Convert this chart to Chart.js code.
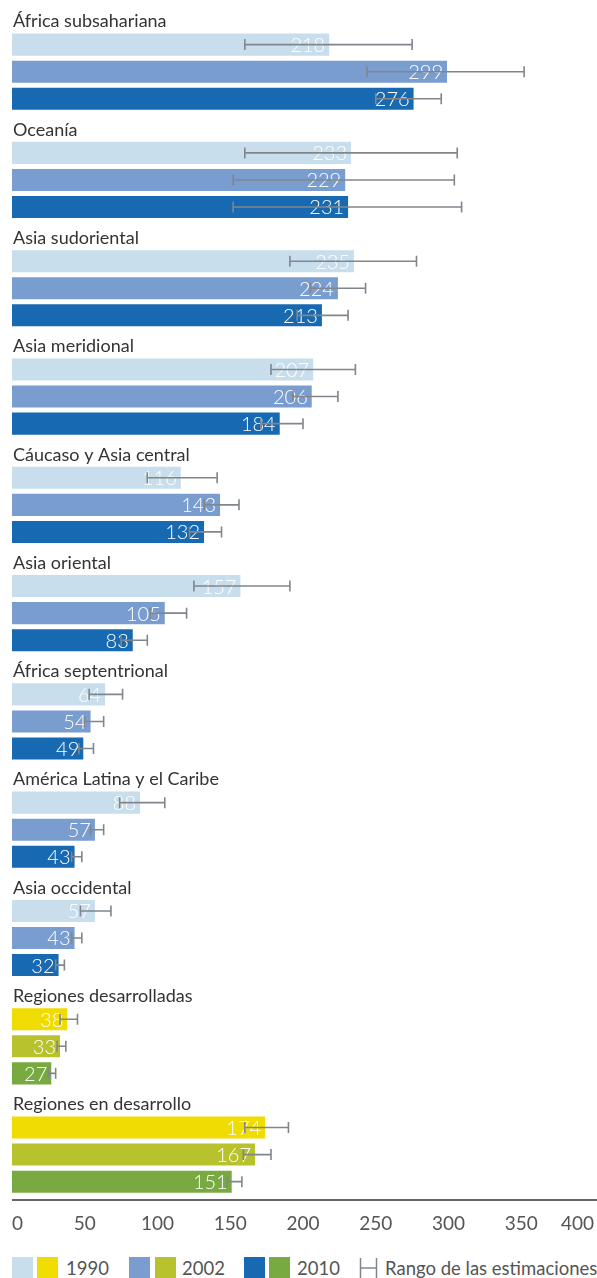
<!DOCTYPE html>
<html>
<head>
<meta charset="utf-8">
<script src="https://cdn.jsdelivr.net/npm/chart.js@4/dist/chart.umd.min.js"></script>
<style>
  body { margin: 0; background: #fff; font-family: Lato, sans-serif; }
  #wrap { position: relative; width: 597px; height: 1244px; }
  #legend { position: absolute; top: 1257px; left: 0; width: 597px; height: 21px; font-size: 18.5px; color: #555; white-space: nowrap; }
  #legend > * { position: absolute; top: 0; }
  .sw { width: 21px; height: 21px; }
  .txt { line-height: 21px; top: 1px !important; }
</style>
</head>
<body>
<div id="wrap"><canvas id="chart"></canvas></div>
<div id="legend">
  <span class="sw" style="left:12px;background:#c8deec"></span><span class="sw" style="left:37px;background:#f0dc00"></span><span class="txt" style="left:66px">1990</span>
  <span class="sw" style="left:129px;background:#7a9dd0"></span><span class="sw" style="left:155px;background:#b8c22c"></span><span class="txt" style="left:182px">2002</span>
  <span class="sw" style="left:244px;background:#1769b1"></span><span class="sw" style="left:269px;background:#78aa41"></span><span class="txt" style="left:297px">2010</span>
  <svg width="20" height="22" style="left:359px"><path d="M1.5 1 V21 M1.5 11 H17.5 M17.5 1 V21" stroke="#80868c" stroke-width="1.5" fill="none"/></svg><span class="txt" style="left:385px">Rango de las estimaciones</span>
</div>
<script>
// regiones (las dos últimas son agregados, con otros colores)
const regions = ['África subsahariana', 'Oceanía', 'Asia sudoriental', 'Asia meridional',
  'Cáucaso y Asia central', 'Asia oriental', 'África septentrional',
  'América Latina y el Caribe', 'Asia occidental', 'Regiones desarrolladas', 'Regiones en desarrollo'];
const years = ['1990', '2002', '2010'];

const v1990 = [218, 233, 235, 207, 116, 157, 64, 88, 57, 38, 174];
const v2002 = [299, 229, 224, 206, 143, 105, 54, 57, 43, 33, 167];
const v2010 = [276, 231, 213, 184, 132, 83, 49, 43, 32, 27, 151];

const low1990 = [160, 160, 191, 178, 93, 125, 53, 74, 47, 33, 160];
const high1990 = [275, 306, 278, 236, 141, 191, 76, 105, 68, 45, 190];
const low2002 = [244, 152, 205, 193, 132, 95, 50, 54, 41, 31, 159];
const high2002 = [352, 304, 243, 224, 156, 120, 63, 63, 48, 37, 178];
const low2010 = [250, 152, 196, 171, 122, 75, 46, 41, 30, 25, 148];
const high2010 = [295, 309, 231, 200, 144, 93, 56, 48, 36, 30, 158];

const xTicks = [0, 50, 100, 150, 200, 250, 300, 350, 400];

const coloresRegion = ['#c8deec', '#7a9dd0', '#1769b1'];
const coloresAgregado = ['#f0dc00', '#b8c22c', '#78aa41'];
const numAgregados = 2;

const valores = [v1990, v2002, v2010];
const bajos = [low1990, low2002, low2010];
const altos = [high1990, high2002, high2010];

// cada region ocupa 4 filas: titulo + 3 barras
var filas = [];
regions.forEach((r, g) => {
    filas.push({ label: 'h' + g, titulo: r, year: -1, g: g });
    years.forEach((y, k) => filas.push({ label: 'b' + g + '_' + k, year: k, g: g }));
});

const datasets = years.map((y, k) => ({
    label: y,
    data: filas.map(f => f.year === k ? valores[k][f.g] : null),
    backgroundColor: filas.map(f => f.g >= regions.length - numAgregados ? coloresAgregado[k] : coloresRegion[k]),
    low: filas.map(f => f.year === k ? bajos[k][f.g] : null),
    high: filas.map(f => f.year === k ? altos[k][f.g] : null),
    skipNull: true,
    categoryPercentage: 1,
    barPercentage: 0.815
}));

const extras = {
    id: 'extras',
    afterDatasetsDraw(chart) {
        const ctx = chart.ctx;
        const x = chart.scales.x;
        const yS = chart.scales.y;
        const area = chart.chartArea;
        ctx.save();

        // titulos de grupo
        ctx.font = '18px Lato';
        ctx.fillStyle = '#333';
        ctx.textAlign = 'left';
        ctx.textBaseline = 'middle';
        filas.forEach((f, i) => {
            if (f.year === -1) ctx.fillText(f.titulo, area.left + 1, yS.getPixelForValue(i) + 4);
        });

        // valores en blanco
        ctx.font = '300 20px Lato';
        ctx.fillStyle = '#fff';
        ctx.textAlign = 'right';
        chart.data.datasets.forEach((ds, d) => {
            chart.getDatasetMeta(d).data.forEach((bar, i) => {
                if (ds.data[i] == null) return;
                ctx.fillText(ds.data[i], bar.x - 4, bar.y + 1);
            });
        });

        // rango de las estimaciones
        ctx.strokeStyle = '#80868c';
        ctx.lineWidth = 1.6;
        chart.data.datasets.forEach((ds, d) => {
            chart.getDatasetMeta(d).data.forEach((bar, i) => {
                if (ds.data[i] == null) return;
                const x1 = x.getPixelForValue(ds.low[i]);
                const x2 = x.getPixelForValue(ds.high[i]);
                ctx.beginPath();
                ctx.moveTo(x1, bar.y); ctx.lineTo(x2, bar.y);
                ctx.moveTo(x1, bar.y - 5.5); ctx.lineTo(x1, bar.y + 5.5);
                ctx.moveTo(x2, bar.y - 5.5); ctx.lineTo(x2, bar.y + 5.5);
                ctx.stroke();
            });
        });

        // eje horizontal
        ctx.strokeStyle = '#333';
        ctx.lineWidth = 1.5;
        ctx.beginPath();
        ctx.moveTo(area.left, 1200);
        ctx.lineTo(chart.width, 1200);
        ctx.stroke();
        ctx.restore();
    }
};

new Chart(document.getElementById('chart'), {
    type: 'bar',
    data: { labels: filas.map(f => f.label), datasets: datasets },
    options: {
        indexAxis: 'y',
        responsive: true,
        maintainAspectRatio: false,
        animation: false,
        layout: { padding: { left: 12, right: 3, top: 4, bottom: 0 } },
        scales: {
            x: {
                min: 0, max: 400,
                afterBuildTicks: (axis) => { axis.ticks = xTicks.map(v => ({ value: v })); },
                afterFit: (axis) => { axis.paddingLeft = 0; axis.paddingRight = 0; },
                grid: { display: false },
                border: { display: false },
                ticks: { align: 'inner', padding: 9, color: '#555', font: { family: 'Lato', size: 19 } }
            },
            y: {
                display: false
            }
        },
        plugins: {
            legend: { display: false },
            tooltip: { enabled: false }
        }
    },
    plugins: [extras]
});
</script>
</body>
</html>
